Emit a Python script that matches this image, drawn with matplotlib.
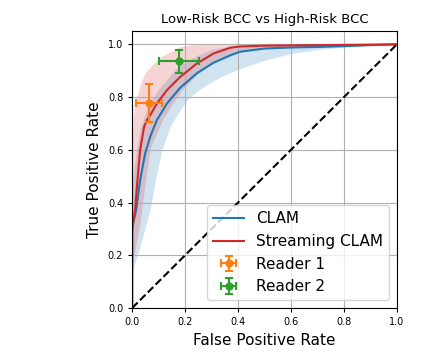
import numpy as np
import matplotlib.pyplot as plt

# CLAM: mean ROC
clam_fpr = [0.0, 0.0, 0.008, 0.015, 0.03, 0.049, 0.068, 0.093, 0.131, 0.181, 0.244,
            0.307, 0.37, 0.408, 0.5, 0.6, 0.7, 0.8, 0.9, 1.0]
clam_tpr = [0.0, 0.31, 0.34, 0.371, 0.485, 0.586, 0.649, 0.712, 0.775, 0.835, 0.89,
            0.93, 0.958, 0.972, 0.984, 0.988, 0.99, 0.993, 0.997, 1.0]
# CLAM: std band
clam_band_fpr = [0.0, 0.003, 0.01, 0.02, 0.03, 0.04, 0.05, 0.068, 0.087, 0.1, 0.112, 0.143,
                 0.15, 0.181, 0.2, 0.212, 0.25, 0.269, 0.3, 0.332, 0.4, 0.408, 0.5, 0.6,
                 0.7, 0.8, 0.9, 1.0]
clam_lo = [0.12, 0.14, 0.17, 0.2, 0.235, 0.27, 0.31, 0.371, 0.485, 0.54, 0.598, 0.687,
           0.70, 0.75, 0.778, 0.794, 0.826, 0.838, 0.858, 0.876, 0.905, 0.908, 0.94, 0.965,
           0.98, 0.99, 0.997, 1.0]
clam_hi = [0.45, 0.5, 0.55, 0.62, 0.68, 0.71, 0.74, 0.78, 0.81, 0.83, 0.845, 0.88,
           0.89, 0.92, 0.93, 0.94, 0.96, 0.967, 0.98, 0.987, 0.995, 0.996, 1.0, 1.0,
           1.0, 1.0, 1.0, 1.0]

# Streaming CLAM: mean ROC
scl_fpr = [0.0, 0.0, 0.005, 0.011, 0.02, 0.03, 0.045, 0.055, 0.068, 0.093, 0.131, 0.181,
           0.244, 0.307, 0.37, 0.408, 0.5, 0.6, 0.7, 0.8, 0.9, 1.0]
scl_tpr = [0.0, 0.29, 0.33, 0.371, 0.485, 0.598, 0.687, 0.712, 0.731, 0.775, 0.826, 0.876,
           0.927, 0.965, 0.987, 0.992, 0.995, 0.996, 0.997, 0.998, 0.999, 1.0]
# Streaming CLAM: std band
scl_band_fpr = [0.0, 0.003, 0.01, 0.018, 0.03, 0.037, 0.048, 0.055, 0.067, 0.068, 0.1,
                0.118, 0.15, 0.181, 0.186, 0.244, 0.25, 0.3, 0.4, 0.5, 0.6, 0.8, 1.0]
scl_lo = [0.15, 0.17, 0.22, 0.26, 0.32, 0.38, 0.466, 0.52, 0.60, 0.605, 0.68, 0.72,
          0.77, 0.818, 0.826, 0.885, 0.89, 0.93, 0.97, 0.985, 0.99, 0.993, 1.0]
scl_hi = [0.6, 0.72, 0.77, 0.80, 0.845, 0.864, 0.89, 0.90, 0.912, 0.914, 0.945, 0.958,
          0.975, 0.99, 0.992, 1.0, 1.0, 1.0, 1.0, 1.0, 1.0, 1.0, 1.0]

# readers: fpr, tpr, x error, y error
reader1 = (0.064, 0.779, 0.05, 0.072)
reader2 = (0.177, 0.935, 0.075, 0.042)

fig = plt.figure(figsize=(4.48, 3.54), dpi=100)
ax = fig.add_axes([0.295, 0.13, 0.591, 0.782])

ax.fill_between(clam_band_fpr, clam_lo, clam_hi, color='tab:blue', alpha=0.2, linewidth=0)
ax.fill_between(scl_band_fpr, scl_lo, scl_hi, color='tab:red', alpha=0.2, linewidth=0)
ax.plot(clam_fpr, clam_tpr, color='tab:blue', linewidth=1.5, label='CLAM')
ax.plot(scl_fpr, scl_tpr, color='tab:red', linewidth=1.5, label='Streaming CLAM')
ax.plot([0, 1], [0, 1], 'k--', linewidth=1.5)

ax.errorbar(reader1[0], reader1[1], xerr=reader1[2], yerr=reader1[3], fmt='o',
            color='tab:orange', markersize=5, capsize=3, elinewidth=1.5, capthick=1.5,
            label='Reader 1')
ax.errorbar(reader2[0], reader2[1], xerr=reader2[2], yerr=reader2[3], fmt='o',
            color='tab:green', markersize=5, capsize=3, elinewidth=1.5, capthick=1.5,
            label='Reader 2')

ax.set_xlim(0, 1)
ax.set_ylim(0, 1.05)
ax.set_xticks(np.arange(0, 1.01, 0.2))
ax.set_yticks(np.arange(0, 1.01, 0.2))
ax.tick_params(labelsize=7, length=3)
ax.grid(True)
ax.set_xlabel('False Positive Rate', fontsize=11)
ax.set_ylabel('True Positive Rate', fontsize=11)
ax.set_title('Low-Risk BCC vs High-Risk BCC', fontsize=9.5)
ax.legend(loc='lower right', fontsize=11)

fig.savefig('out.png', dpi=100)
